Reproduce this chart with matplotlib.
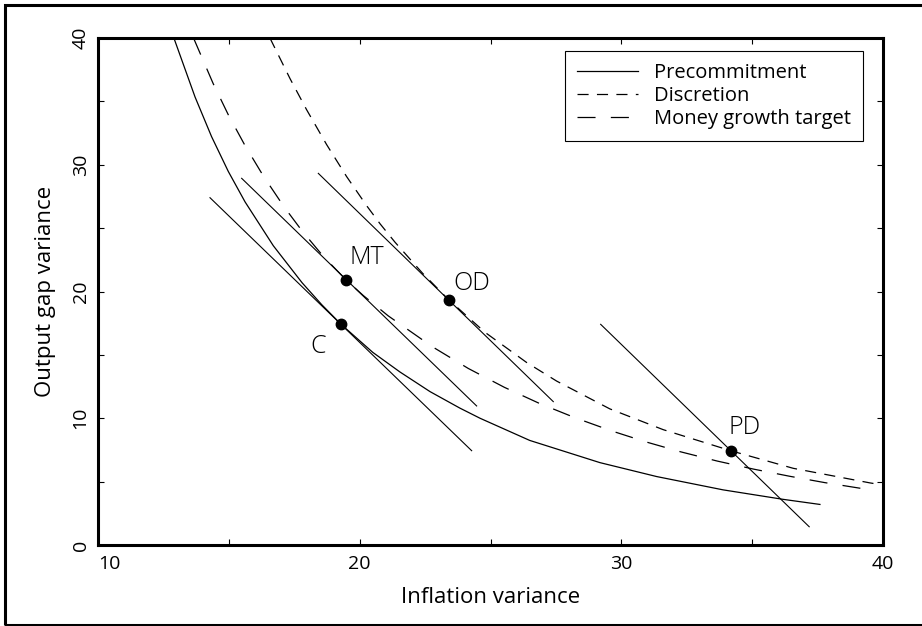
import matplotlib
matplotlib.use('Agg')
import matplotlib.pyplot as plt
from matplotlib.patches import Rectangle

plt.rcParams['font.family'] = ['Open Sans', 'DejaVu Sans']
plt.rcParams['lines.scale_dashes'] = False

# curves
prec_x = [12.90, 13.71, 14.34, 14.98, 15.62, 16.70, 17.80, 18.55, 19.29, 20.50,
          21.54, 22.69, 23.83, 24.60, 26.50, 29.18, 31.35, 33.89, 36.19, 37.59]
prec_y = [40.0, 35.34, 32.22, 29.47, 27.07, 23.61, 20.69, 18.96, 17.41, 15.20,
          13.65, 12.10, 10.80, 10.00, 8.25, 6.50, 5.40, 4.35, 3.60, 3.20]

disc_x = [16.57, 17.34, 17.97, 18.74, 19.50, 20.27, 20.78, 21.35, 22.40, 23.41,
          24.79, 26.38, 27.53, 29.56, 31.60, 34.21, 36.57, 39.50, 39.80]
disc_y = [40.0, 36.79, 34.35, 31.58, 29.07, 26.76, 25.34, 23.89, 21.45, 19.33,
          16.78, 14.40, 12.93, 10.74, 9.10, 7.42, 6.05, 4.90, 4.80]

money_x = [13.65, 14.40, 14.98, 15.62, 16.32, 17.11, 17.81, 18.60, 19.48, 20.14,
           21.09, 22.78, 24.15, 25.53, 26.86, 28.23, 29.63, 30.93, 32.27, 33.67,
           35.07, 36.44, 37.78, 39.12, 39.50]
money_y = [40.0, 36.41, 33.94, 31.51, 29.11, 26.68, 24.75, 22.80, 20.91, 19.68,
           18.08, 15.64, 13.93, 12.44, 11.18, 10.04, 9.00, 8.14, 7.35, 6.62,
           5.98, 5.42, 4.92, 4.48, 4.36]

# tangent segments (C, MT, OD, PD)
tan_x = [[14.28, 24.28], [15.49, 24.47], [18.42, 27.40], [29.21, 37.18]]
tan_y = [[27.40, 7.44], [28.93, 10.97], [29.32, 11.31], [17.41, 1.44]]

# marked points and their labels
pt_names = ['C', 'MT', 'OD', 'PD']
pt_x = [19.29, 19.48, 23.41, 34.21]
pt_y = [17.41, 20.91, 19.33, 7.42]
lab_x = [18.10, 19.60, 23.58, 34.09]
lab_y = [15.65, 22.70, 20.67, 9.25]

x_ticks = [10, 15, 20, 25, 30, 35, 40]
x_ticklabels = ['10', '', '20', '', '30', '', '40']
y_ticks = [0, 5, 10, 15, 20, 25, 30, 35, 40]
y_ticklabels = ['0', '', '10', '', '20', '', '30', '', '40']

fig = plt.figure(figsize=(9.22, 6.26), dpi=100)
ax = fig.add_axes([98 / 922, 81 / 626, 785 / 922, 507 / 626])

ax.plot(prec_x, prec_y, color='black', lw=0.9, label='Precommitment')
ax.plot(disc_x, disc_y, color='black', lw=0.9, dashes=(8, 6), label='Discretion')
ax.plot(money_x, money_y, color='black', lw=0.9, dashes=(13, 11),
        label='Money growth target')

for xs, ys in zip(tan_x, tan_y):
    ax.plot(xs, ys, color='black', lw=0.8)

ax.plot(pt_x, pt_y, 'o', color='black', ms=7.5)
for x, y, s in zip(lab_x, lab_y, pt_names):
    ax.text(x, y, s, fontsize=18, ha='left', va='center', fontweight='light')

ax.set_xlim(10, 40)
ax.set_ylim(0, 40)
ax.set_xticks(x_ticks)
ax.set_xticklabels(x_ticklabels)
ax.set_yticks(y_ticks)
ax.set_yticklabels(y_ticklabels)
ax.tick_params(direction='in', length=4.3, width=0.8, top=True, right=True,
               labelsize=14, pad=6)
ax.tick_params(axis='x', pad=7)
ax.tick_params(axis='y', labelrotation=90)
for lab in ax.get_yticklabels():
    lab.set_va('center')
ax.get_xticklabels()[0].set_ha('left')
for sp in ax.spines.values():
    sp.set_linewidth(2.2)

ax.set_xlabel('Inflation variance', fontsize=16, labelpad=10)
ax.set_ylabel('Output gap variance', fontsize=16, labelpad=11)

leg = ax.legend(loc='upper right', bbox_to_anchor=(0.9745, 0.974),
                borderaxespad=0, fontsize=14.5, handlelength=3.0,
                handletextpad=0.8, labelspacing=0.15, borderpad=0.6,
                fancybox=False, framealpha=1)
leg.get_frame().set_edgecolor('black')
leg.get_frame().set_linewidth(0.8)

fig.add_artist(Rectangle((5 / 922, 1.5 / 626), 1.0, 1 - 6.5 / 626,
                         transform=fig.transFigure, fill=False,
                         lw=2.2, edgecolor='black'))

fig.savefig('out.png', dpi=100)
